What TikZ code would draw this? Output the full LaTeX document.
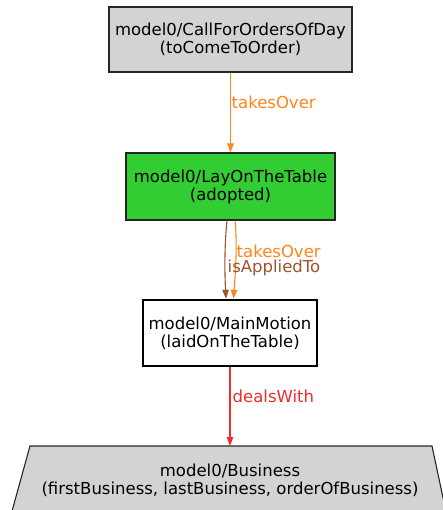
\documentclass[tikz,border=0pt]{standalone}
\usepackage{fontspec}
\setmainfont{DejaVu Sans}
\usetikzlibrary{arrows.meta,shapes.geometric}
\definecolor{boxgray}{HTML}{D3D3D3}
\definecolor{boxgreen}{HTML}{32CD32}
\definecolor{edgeorange}{HTML}{FF8518}
\definecolor{edgebrown}{HTML}{A0522D}
\definecolor{edgered}{HTML}{EE2C2C}
\tikzset{
  x=1pt, y=-1pt,
  every node/.style={font=\fontsize{16.5}{18}\selectfont, align=center, inner sep=0pt},
  classbox/.style={draw=black!85, line width=1.1pt, minimum height=#1},
  rel/.style={line width=1.1pt, -{Triangle[length=9pt,width=6.5pt]}},
  rellabel/.style={font=\fontsize{16.5}{18}\selectfont, anchor=west},
}
\begin{document}
\begin{tikzpicture}
\useasboundingbox (0,0) rectangle (443,510);
\clip (0,0) rectangle (443,510);

% class nodes
\node[classbox=65pt, fill=boxgray, minimum width=243pt] (call) at (230.5,39.5)
  {model0/CallForOrdersOfDay\\(toComeToOrder)};
\node[classbox=67pt, fill=boxgreen, minimum width=209pt] (lay) at (230.5,186.5)
  {model0/LayOnTheTable\\(adopted)};
\node[draw=black, line width=2.6pt, fill=white, minimum width=174pt, minimum height=66pt] (main) at (230,333)
  {model0/MainMotion\\(laidOnTheTable)};

% trapezoid for the business node, running past the lower edge
\coordinate (bustop) at (230,446);
\filldraw[fill=boxgray, draw=black!85, line width=1.1pt]
  (30,446) -- (432,446) -- (452,540) -- (4,540) -- cycle;
\node (bus) at (230,480) {model0/Business\\(firstBusiness, lastBusiness, orderOfBusiness)};

% relations
\draw[rel, edgeorange] (call.south) -- (lay.north);
\node[rellabel, text=edgeorange] (tolabel1) at (231.5,102) {takesOver};
\draw[rel, edgebrown] ([xshift=-3.5pt]lay.south) .. controls (224.5,245) and (224.5,270) .. ([xshift=-4pt]main.north);
\draw[rel, edgeorange] ([xshift=4.5pt]lay.south) .. controls (237.5,245) and (235.5,270) .. ([xshift=3.5pt]main.north);
\node[rellabel, text=edgeorange] (tolabel2) at (236.5,251) {takesOver};
\node[rellabel, text=edgebrown] (ialabel) at (227.5,268) {isAppliedTo};
\draw[rel, edgered] (main.south) -- (bustop);
\node[rellabel, text=edgered] (dwlabel) at (232.5,396) {dealsWith};
\end{tikzpicture}
\end{document}
